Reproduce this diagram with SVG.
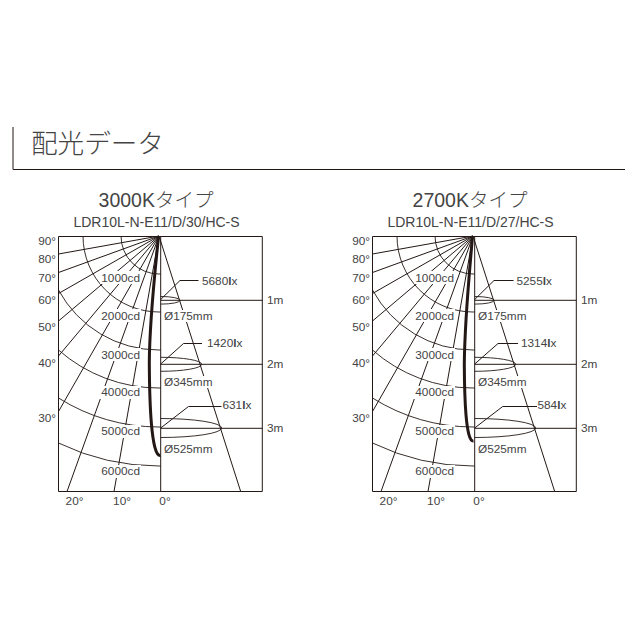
<svg xmlns="http://www.w3.org/2000/svg" width="640" height="640" viewBox="0 0 640 640">
<style>
text{font-family:"Liberation Sans","Noto Sans CJK JP",sans-serif;fill:#444;font-size:11.8px}
.jp{font-family:"Noto Sans CJK JP","Liberation Sans",sans-serif;font-weight:300}
.h{font-size:26.6px}
.t{font-size:19.500px;text-anchor:middle}
.s{font-size:14px;text-anchor:middle}
.m{text-anchor:middle}
.e{text-anchor:end}
.b{font-weight:bold}
.l{fill:none;stroke:#231815;stroke-width:1}
.a{fill:none;stroke:#231815;stroke-width:.9}
.c{fill:none;stroke:#231815;stroke-width:3}
.bg{fill:#fff}
</style>
<defs>
<g id="chart">
<path class="l" d="M159 236L58.500 254M159 236L58.500 272.500M159 236L58.500 293.500M159 236L58.500 321M159 236L58.500 356M159 236L58.500 411.500M159 236L67 491.500M159 236L114 491.500M159 236L240.700 491.500"/>
<path class="a" d="M121 236A38 38 0 0 0 159 274H160.700M83 236A76 76 0 0 0 159 312H160.700M58.500 290A114 114 0 0 0 159 350H160.700M58.500 350A152 152 0 0 0 159 388H160.700M58.500 398A191 191 0 0 0 159 427H160.700M58.500 443A230 230 0 0 0 159 466H160.700"/>
<rect x="100" y="271" width="41" height="13" class="bg"/>
<rect x="100" y="309" width="41" height="13" class="bg"/>
<rect x="100" y="348" width="41" height="13" class="bg"/>
<rect x="100" y="386" width="41" height="13" class="bg"/>
<rect x="100" y="425" width="41" height="13" class="bg"/>
<rect x="100" y="465" width="41" height="13" class="bg"/>
<path class="l" d="M58.500 236.500H262.300V491.500H58.500ZM160.700 236.500V491.500M160.700 300.300H262.300M160.700 364.300H262.300M160.700 428.300H262.300"/>
<path class="a" d="M160.700 296.500A19.500 3.800 0 0 1 160.700 304.100M160.700 357.300A41 7 0 0 1 160.700 371.300M160.700 418.500A61 9.500 0 0 1 160.700 437.500"/>
<rect x="163" y="310" width="50" height="12" class="bg"/>
<rect x="163" y="376" width="50" height="12" class="bg"/>
<rect x="163" y="443" width="50" height="12" class="bg"/>
<text x="140" y="282" class="e">1000cd</text>
<text x="140" y="320" class="e">2000cd</text>
<text x="140" y="359" class="e">3000cd</text>
<text x="140" y="396" class="e">4000cd</text>
<text x="140" y="435" class="e">5000cd</text>
<text x="140" y="475" class="e">6000cd</text>
<text x="56" y="244.500" class="e">90°</text>
<text x="56" y="262.500" class="e">80°</text>
<text x="56" y="282" class="e">70°</text>
<text x="56" y="303.500" class="e">60°</text>
<text x="56" y="330.500" class="e">50°</text>
<text x="56" y="366.500" class="e">40°</text>
<text x="56" y="421.500" class="e">30°</text>
<text x="74.500" y="505" class="m">20°</text>
<text x="122" y="505" class="m">10°</text>
<text x="165" y="505" class="m">0°</text>
<text x="164" y="320">Ø175mm</text>
<text x="164" y="386">Ø345mm</text>
<text x="164" y="453">Ø525mm</text>
<text x="267" y="304">1m</text>
<text x="267" y="368">2m</text>
<text x="267" y="432">3m</text>
</g>
</defs>
<g id="header">
<path class="l" d="M13 127V169.500H625"/>
<text x="31" y="153" class="jp h">配光データ</text>
</g>
<g id="chart-3000k">
<use href="#chart"/>
<path class="c" d="M158.500 237C155 270 149.500 330 149.300 363C149.500 400 151 457 160.500 455.500"/>
<text x="156" y="207" class="jp t"><tspan font-family="Liberation Sans">3000K</tspan>タイプ</text>
<text x="156.500" y="227" class="s">LDR10L-N-E11/D/30/HC-S</text>
<path class="l" d="M160.700 299.500L180 280.500H198.500M160.700 364L183.500 343.500H202M160.700 428L188.500 406.500H221.500"/>
<text x="202" y="285">5680<tspan class="b">l</tspan>x</text>
<text x="207" y="347">1420<tspan class="b">l</tspan>x</text>
<text x="222.500" y="409">631<tspan class="b">l</tspan>x</text>
</g>
<g id="chart-2700k" transform="translate(314 0)">
<use href="#chart"/>
<path class="c" d="M158.500 237C155.500 270 150.500 330 150.300 365C150.500 395 151.500 442 159.500 441"/>
<text x="156" y="207" class="jp t"><tspan font-family="Liberation Sans">2700K</tspan>タイプ</text>
<text x="156.500" y="227" class="s">LDR10L-N-E11/D/27/HC-S</text>
<path class="l" d="M160.700 299.500L180 280.500H199.500M160.700 364L184 343.500H204M160.700 428L188.700 406.500H223"/>
<text x="202.500" y="285">5255<tspan class="b">l</tspan>x</text>
<text x="207" y="347">1314<tspan class="b">l</tspan>x</text>
<text x="223.500" y="409">584<tspan class="b">l</tspan>x</text>
</g>
</svg>
